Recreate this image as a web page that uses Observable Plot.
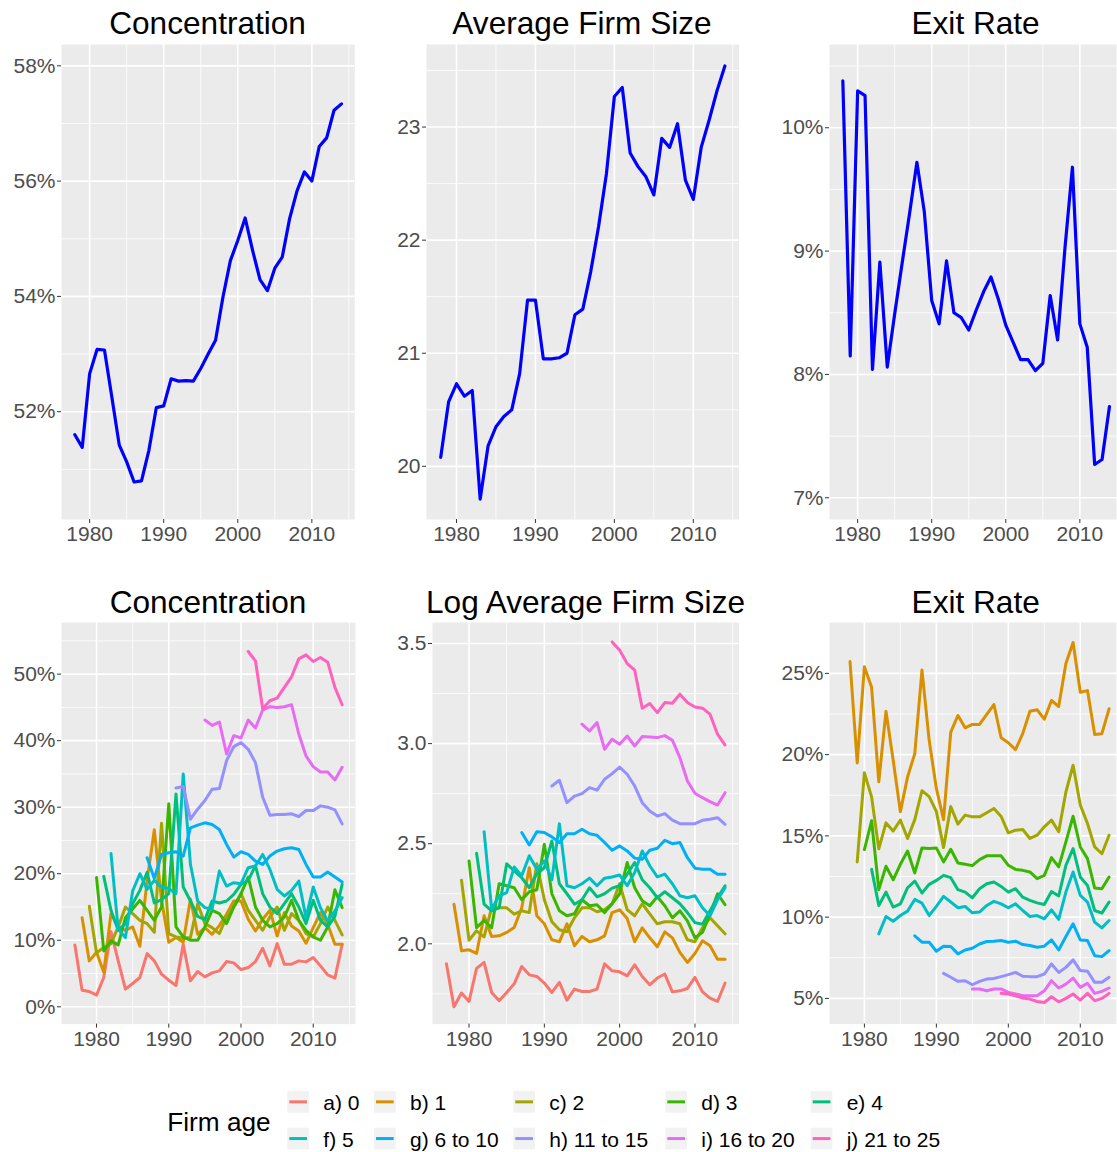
<!DOCTYPE html>
<html>
<head>
<meta charset="utf-8">
<script src="https://cdn.jsdelivr.net/npm/d3@7"></script>
<script src="https://cdn.jsdelivr.net/npm/@observablehq/plot@0.6"></script>
<style>
  html, body { margin: 0; padding: 0; background: #fff; overflow: hidden; }
  #root { position: relative; width: 1117px; height: 1152px; overflow: hidden; background: #fff; }
  #root svg { position: absolute; }
</style>
</head>
<body>
<div id="root"></div>
<script>
// ---------------- DATA ----------------
const years = d3.range(1978, 2015); // 1978..2014

// Top row (aggregate)
const concentration = [51.60,51.38,52.66,53.08,53.07,52.25,51.42,51.13,50.78,50.80,51.33,52.07,52.10,52.57,52.53,52.54,52.53,52.75,53.00,53.24,53.99,54.62,54.97,55.36,54.80,54.29,54.10,54.49,54.68,55.35,55.83,56.16,56.00,56.60,56.75,57.23,57.34];
const avgFirmSize = [20.08,20.57,20.73,20.62,20.67,19.71,20.18,20.35,20.44,20.50,20.82,21.47,21.47,20.95,20.95,20.96,21.00,21.34,21.39,21.72,22.12,22.59,23.27,23.35,22.77,22.65,22.56,22.40,22.90,22.82,23.03,22.53,22.36,22.82,23.06,23.32,23.54];
const exitRate = [10.38,8.15,10.30,10.26,8.04,8.91,8.06,8.49,8.90,9.30,9.72,9.32,8.60,8.41,8.92,8.50,8.46,8.36,8.52,8.67,8.79,8.61,8.40,8.26,8.12,8.12,8.03,8.09,8.64,8.28,9.03,9.68,8.41,8.22,7.27,7.31,7.74];

// Firm-age categories
const ageLabels = ["a) 0","b) 1","c) 2","d) 3","e) 4","f) 5","g) 6 to 10","h) 11 to 15","i) 16 to 20","j) 21 to 25"];
const palette = ["#F8766D","#D89000","#A3A500","#39B600","#00BF7D","#00BFC4","#00B0F6","#9590FF","#E76BF3","#FF62BC"];
const ageStart = [1977,1978,1979,1980,1981,1982,1987,1991,1995,1999];

// Concentration by age (%)
const concA = [9.3,2.5,2.3,1.75,4.4,11.3,6.9,2.65,3.5,4.4,8.0,6.9,4.9,4.0,3.2,9.4,3.9,5.3,4.5,5.1,5.4,6.8,6.6,5.6,5.9,6.8,8.8,6.15,9.5,6.4,6.4,6.9,6.75,7.4,6.15,4.8,4.3,9.4];
const concB = [13.4,6.9,8.2,5.2,14.0,12.0,11.5,12.0,9.1,19.0,26.6,16.0,9.7,10.4,9.7,16.2,10.9,11.9,10.9,12.2,13.9,15.9,15.9,13.15,11.4,13.15,14.5,10.65,14.15,12.15,11.4,9.55,11.9,14.15,12.4,9.4,9.4];
const concC = [15.1,8.1,8.9,9.5,12.0,15.0,14.0,13.0,12.5,11.2,27.6,11.0,10.5,10.3,10.4,15.5,12.5,11.9,11.0,13.5,15.0,17.0,14.5,13.0,11.5,13.5,15.0,11.5,14.0,13.0,11.0,10.5,12.5,15.0,13.0,10.8];
const concD = [19.45,8.4,9.9,9.3,13.4,14.7,16.0,14.5,13.0,15.0,30.5,12.0,10.5,10.0,10.0,12.0,14.5,14.0,12.5,15.0,17.0,19.5,15.0,13.0,12.0,12.5,13.5,16.0,13.0,11.5,10.5,10.0,12.0,17.6,14.9];
const concE = [19.6,14.5,11.5,12.5,15.5,17.5,20.2,15.6,16.1,17.0,32.0,18.0,15.9,13.6,13.1,15.9,15.6,15.9,16.9,18.4,19.0,21.2,17.0,15.0,14.0,15.5,17.0,15.0,12.5,16.0,13.0,12.0,13.6,18.4];
const concF = [23.05,11.65,10.4,17.4,20.0,17.65,19.0,18.0,17.8,17.0,35.0,21.4,15.9,14.9,14.65,20.4,18.15,18.65,18.5,20.9,21.15,22.9,20.65,17.65,16.65,17.5,18.9,13.4,18.0,14.9,12.9,14.4,16.4];
const concG = [22.4,19.3,22.9,23.15,23.3,22.65,26.9,27.3,27.65,27.4,26.65,24.4,22.5,23.3,22.9,21.9,21.4,22.65,23.4,23.75,23.9,23.65,21.4,19.5,19.5,20.25,19.5,18.75];
const concH = [32.9,33.1,28.2,29.7,31.0,32.7,32.8,37.0,39.1,39.7,38.7,36.7,31.5,28.8,28.9,28.9,29.0,28.6,29.5,29.5,30.2,30.0,29.6,27.5];
const concI = [43.1,42.3,42.8,38.0,40.75,40.4,43.1,41.9,44.6,45.1,45.0,45.1,45.4,41.0,37.7,36.1,35.3,35.3,34.1,36.0];
const concJ = [53.4,52.0,44.8,46.0,46.4,48.0,49.6,52.3,52.9,51.9,52.5,51.8,48.0,45.4];
const concStart = [1977,1978,1979,1980,1981,1982,1987,1991,1995,2001];

// Log average firm size by age
const sizeA = [1.90,1.686,1.754,1.712,1.877,1.907,1.757,1.716,1.757,1.80,1.887,1.845,1.837,1.804,1.757,1.807,1.719,1.774,1.762,1.762,1.774,1.90,1.865,1.86,1.84,1.895,1.837,1.795,1.829,1.849,1.76,1.765,1.777,1.832,1.76,1.729,1.712,1.804];
const sizeB = [2.198,1.965,1.97,1.952,2.14,2.037,2.04,2.057,2.082,2.18,2.38,2.14,2.10,2.02,2.01,2.10,1.99,2.037,2.01,2.02,2.04,2.156,2.17,2.126,2.01,2.08,2.03,1.985,2.06,2.03,1.957,1.907,1.952,2.015,1.99,1.923,1.923];
const sizeC = [2.318,2.018,2.065,2.035,2.18,2.18,2.18,2.148,2.165,2.156,2.40,2.22,2.11,2.07,2.06,2.13,2.18,2.18,2.16,2.17,2.20,2.30,2.17,2.14,2.20,2.15,2.10,2.11,2.11,2.10,2.02,2.01,2.08,2.13,2.09,2.05];
const sizeD = [2.414,2.08,2.118,2.08,2.30,2.29,2.28,2.22,2.26,2.27,2.497,2.25,2.165,2.14,2.15,2.22,2.19,2.195,2.156,2.20,2.25,2.406,2.28,2.215,2.19,2.235,2.19,2.13,2.165,2.115,2.03,2.057,2.148,2.25,2.195];
const sizeE = [2.452,2.198,2.165,2.18,2.40,2.364,2.33,2.28,2.35,2.38,2.514,2.30,2.25,2.198,2.22,2.28,2.235,2.25,2.278,2.29,2.348,2.406,2.32,2.28,2.23,2.26,2.23,2.20,2.156,2.106,2.098,2.165,2.23,2.29];
const sizeF = [2.56,2.173,2.24,2.256,2.384,2.34,2.44,2.373,2.414,2.32,2.60,2.29,2.28,2.30,2.328,2.29,2.328,2.334,2.344,2.29,2.356,2.464,2.39,2.334,2.348,2.30,2.24,2.23,2.24,2.18,2.14,2.22,2.28];
const sizeG = [2.556,2.494,2.56,2.556,2.534,2.506,2.55,2.55,2.572,2.55,2.542,2.506,2.467,2.489,2.464,2.428,2.422,2.467,2.477,2.517,2.50,2.506,2.43,2.378,2.373,2.373,2.348,2.348];
const sizeH = [2.788,2.817,2.705,2.738,2.75,2.78,2.768,2.822,2.85,2.883,2.847,2.788,2.705,2.663,2.638,2.65,2.618,2.60,2.60,2.60,2.617,2.622,2.63,2.597];
const sizeI = [3.097,3.063,3.105,2.972,3.022,2.997,3.038,2.988,3.035,3.033,3.03,3.04,3.017,2.93,2.813,2.752,2.73,2.71,2.693,2.755];
const sizeJ = [3.508,3.467,3.40,3.367,3.177,3.20,3.155,3.205,3.202,3.247,3.205,3.183,3.177,3.147,3.047,2.993];

// Exit rate by age (%), no series for age 0
const exitB = [25.73,19.49,25.41,24.14,18.33,22.67,19.65,16.49,18.63,20.06,25.2,20.88,17.92,16.0,21.39,22.41,21.65,21.86,21.86,22.47,23.08,21.04,20.73,20.31,21.29,22.67,22.76,22.18,23.33,22.96,25.61,26.9,23.84,23.94,21.24,21.29,22.82];
const exitC = [13.4,18.88,17.4,14.2,15.8,15.3,15.97,14.84,16.0,17.78,17.41,16.5,14.28,16.8,15.72,16.28,16.17,16.17,16.42,16.69,16.2,15.19,15.35,15.39,14.84,15.04,15.56,15.97,15.25,17.7,19.35,16.9,15.76,14.32,13.9,15.04];
const exitD = [14.16,15.93,11.69,13.13,12.3,13.25,14.07,12.72,14.26,14.22,14.26,13.4,14.18,13.33,13.25,13.17,13.54,13.77,13.77,13.77,13.19,12.94,12.88,12.78,12.37,12.57,13.66,13.09,14.63,16.21,14.32,13.6,11.79,11.75,12.47];
const exitE = [12.94,10.72,11.54,10.62,10.82,11.81,12.22,11.48,12.02,12.26,12.57,12.43,11.69,11.54,11.19,11.75,12.06,12.16,11.89,11.54,11.75,11.23,11.03,10.88,10.78,11.58,11.3,13.19,14.22,12.47,11.95,10.41,10.25,10.93];
const exitF = [8.97,10.04,9.75,10.1,10.37,11.09,10.86,10.1,10.66,11.28,10.93,10.58,10.66,10.27,10.31,10.72,10.97,10.82,10.58,10.82,10.41,10.04,10.1,9.9,10.45,9.86,11.54,12.78,11.34,10.93,9.69,9.34,9.79];
const exitG = [8.85,8.46,8.46,7.9,8.21,8.19,7.74,7.98,8.09,8.35,8.5,8.52,8.56,8.46,8.52,8.31,8.25,8.15,8.21,8.6,7.98,8.81,9.59,8.6,8.56,7.63,7.57,7.94];
const exitH = [6.54,6.3,6.05,6.09,5.84,6.05,6.19,6.23,6.34,6.46,6.6,6.36,6.34,6.34,6.5,7.12,6.6,6.91,7.37,6.71,6.67,5.99,5.99,6.3];
const exitI = [5.58,5.58,5.47,5.58,5.58,5.37,5.27,5.16,5.16,5.16,5.47,6.09,5.64,5.88,6.25,5.68,5.93,5.31,5.43,5.64];
const exitJ = [5.31,5.27,5.16,5.02,4.96,4.81,4.75,5.1,4.79,5.0,5.27,4.9,5.31,4.86,5.0,5.31];

// Tick labels
const xTicks = [1980, 1990, 2000, 2010];
const xMinorTicks = [1975, 1985, 1995, 2005, 2015];
const titles = ["Concentration", "Average Firm Size", "Exit Rate", "Concentration", "Log Average Firm Size", "Exit Rate"];
const legendTitle = "Firm age";

// ---------------- BUILD ----------------
const FONT = "'Liberation Sans', Arial, Helvetica, sans-serif";
const root = document.getElementById("root");

function cohortRows(arrays, starts, labels) {
  const rows = [];
  arrays.forEach((arr, k) => {
    if (!arr) return;
    arr.forEach((v, i) => rows.push({year: starts[k] + i, value: v, age: labels[k]}));
  });
  return rows;
}
const topRows = vals => vals.map((v, i) => ({year: years[i], value: v}));

const concRows = cohortRows([concA,concB,concC,concD,concE,concF,concG,concH,concI,concJ], concStart, ageLabels);
const sizeRows = cohortRows([sizeA,sizeB,sizeC,sizeD,sizeE,sizeF,sizeG,sizeH,sizeI,sizeJ], ageStart, ageLabels);
const exitRows = cohortRows([null,exitB,exitC,exitD,exitE,exitF,exitG,exitH,exitI,exitJ], ageStart, ageLabels);

const pct = d => d + "%";

function panel(spec) {
  const mL = 70, mR = 12, mT = 12, mB = 40;
  const W = spec.right - spec.left + mL + mR;
  const H = spec.bottom - spec.top + mT + mB;
  const [x0, x1] = spec.xDomain, [y0, y1] = spec.yDomain;
  const xm = xMinorTicks.filter(v => v > x0 && v < x1);
  const ym = spec.yMinor.filter(v => v > y0 && v < y1);
  const p = Plot.plot({
    width: W, height: H,
    marginLeft: mL, marginRight: mR, marginTop: mT, marginBottom: mB,
    style: {fontFamily: FONT, fontSize: "21px", background: "transparent", overflow: "visible"},
    x: {domain: spec.xDomain, axis: null},
    y: {domain: spec.yDomain, axis: null},
    color: {domain: ageLabels, range: palette},
    marks: [
      Plot.frame({fill: "#EBEBEB", stroke: "none"}),
      Plot.ruleX(xm, {stroke: "white", strokeWidth: 0.8}),
      Plot.ruleY(ym, {stroke: "white", strokeWidth: 0.8}),
      Plot.ruleX(xTicks, {stroke: "white", strokeWidth: 1.6}),
      Plot.ruleY(spec.yTicks, {stroke: "white", strokeWidth: 1.6}),
      ...spec.marks,
      Plot.axisX({ticks: xTicks, tickFormat: "d", tickSize: 4, tickPadding: 3, stroke: "#333333", fill: "#4D4D4D", label: null}),
      Plot.axisY({ticks: spec.yTicks, tickFormat: spec.yFormat, tickSize: 4, tickPadding: 2, stroke: "#333333", fill: "#4D4D4D", label: null})
    ]
  });
  p.style.left = (spec.left - mL) + "px";
  p.style.top = (spec.top - mT) + "px";
  root.appendChild(p);
}

const topY = [44, 519], botY = [621.7, 1023.3];
const topX = [1976.2, 2015.8], botX = [1975.15, 2015.85];

const blueLine = vals => Plot.line(topRows(vals), {x: "year", y: "value", stroke: "#0000FF", strokeWidth: 3.2, strokeLinejoin: "round"});
const ageLine = rows => Plot.line(rows, {x: "year", y: "value", z: "age", stroke: "age", strokeWidth: 3, strokeLinejoin: "round"});

panel({left: 61, right: 354.3, top: topY[0], bottom: topY[1], xDomain: topX, yDomain: [50.13, 58.37],
  yTicks: [52, 54, 56, 58], yMinor: [51, 53, 55, 57], yFormat: pct, marks: [blueLine(concentration)]});
panel({left: 425.7, right: 738.3, top: topY[0], bottom: topY[1], xDomain: topX, yDomain: [19.53, 23.73],
  yTicks: [20, 21, 22, 23], yMinor: [19.5, 20.5, 21.5, 22.5, 23.5], yFormat: d => d3.format("d")(d), marks: [blueLine(avgFirmSize)]});
panel({left: 829, right: 1122.3, top: topY[0], bottom: topY[1], xDomain: topX, yDomain: [6.824, 10.675],
  yTicks: [7, 8, 9, 10], yMinor: [7.5, 8.5, 9.5, 10.5], yFormat: pct, marks: [blueLine(exitRate)]});

panel({left: 61, right: 355, top: botY[0], bottom: botY[1], xDomain: botX, yDomain: [-2.6, 57.76],
  yTicks: [0, 10, 20, 30, 40, 50], yMinor: [5, 15, 25, 35, 45, 55], yFormat: pct, marks: [ageLine(concRows)]});
panel({left: 432.3, right: 738.8, top: botY[0], bottom: botY[1], xDomain: botX, yDomain: [1.599, 3.605],
  yTicks: [2.0, 2.5, 3.0, 3.5], yMinor: [1.75, 2.25, 2.75, 3.25], yFormat: d3.format(".1f"), marks: [ageLine(sizeRows)]});
panel({left: 829.3, right: 1122.2, top: botY[0], bottom: botY[1], xDomain: botX, yDomain: [3.42, 28.13],
  yTicks: [5, 10, 15, 20, 25], yMinor: [7.5, 12.5, 17.5, 22.5], yFormat: pct, marks: [ageLine(exitRows)]});

// Titles and legend overlay
const ov = d3.select(root).append("svg")
  .attr("width", 1117).attr("height", 1152)
  .style("left", "0px").style("top", "0px")
  .style("font-family", FONT);

const titleCenters = [207.6, 582, 975.6, 208, 585.5, 975.7];
titles.forEach((t, i) => {
  ov.append("text").attr("x", titleCenters[i]).attr("y", i < 3 ? 33.5 : 612.5)
    .attr("text-anchor", "middle").attr("font-size", 31.6).attr("fill", "#000").text(t);
});

ov.append("text").attr("x", 167.3).attr("y", 1130.5).attr("font-size", 26.2).attr("fill", "#000").text(legendTitle);
const keyX = [287.3, 374, 513.3, 665.3, 810.7];
const keyY = [1091, 1127.7];
ageLabels.forEach((lab, i) => {
  const r = Math.floor(i / 5), c = i % 5;
  const g = ov.append("g");
  g.append("rect").attr("x", keyX[c]).attr("y", keyY[r]).attr("width", 21.7).attr("height", 21.7).attr("fill", "#F2F2F2");
  g.append("line").attr("x1", keyX[c] + 2).attr("x2", keyX[c] + 19.7)
    .attr("y1", keyY[r] + 10.85).attr("y2", keyY[r] + 10.85)
    .attr("stroke", palette[i]).attr("stroke-width", 3);
  g.append("text").attr("x", keyX[c] + 36).attr("y", keyY[r] + 19.3)
    .attr("font-size", 21).attr("fill", "#000").text(lab);
});
</script>
</body>
</html>
